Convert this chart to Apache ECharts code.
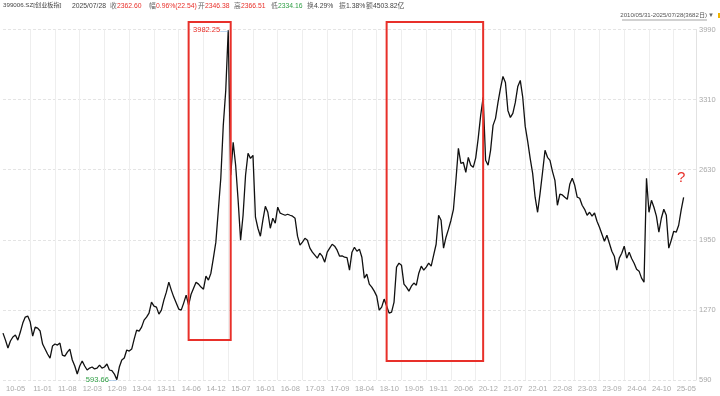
<!DOCTYPE html>
<html><head><meta charset="utf-8">
<script src="https://cdn.jsdelivr.net/npm/echarts@6/dist/echarts.min.js"></script>
<style>html,body{margin:0;padding:0;background:#fff}#c{width:720px;height:396px}</style>
</head><body><div id="c"></div>
<script>
// ---- data ----
const tickLabels = ['10-05','11-01','11-08','12-03','12-09','13-04','13-11','14-06','14-12','15-07','16-01','16-08','17-03','17-09','18-04','18-10','19-05','19-11','20-06','20-12','21-07','22-01','22-08','23-03','23-09','24-04','24-10','25-05'];
const closeValues = [
1045,977,900,968,1007,1026,977,1055,1142,1200,
1210,1152,1016,1103,1094,1065,939,890,842,803,
919,939,929,948,832,822,861,890,784,726,
648,726,774,726,687,706,716,697,706,735,
706,716,745,687,680,648,593.66,716,784,803,
881,871,890,987,1074,1065,1103,1171,1200,1239,
1346,1307,1297,1229,1268,1365,1442,1539,1462,1394,
1336,1278,1268,1336,1413,1316,1423,1481,1539,1520,
1491,1471,1597,1559,1626,1772,1927,2237,2547,3060,
3399,3982.25,2576,2895,2673,2333,1946,2188,2576,2789,
2740,2769,2169,2062,1985,2140,2275,2217,2062,2159,
2111,2266,2208,2198,2188,2198,2188,2179,2159,1985,
1898,1927,1965,1946,1869,1830,1801,1772,1820,1791,
1733,1830,1869,1907,1888,1849,1791,1795,1781,1778,
1655,1830,1878,1839,1859,1781,1578,1617,1520,1491,
1452,1404,1268,1297,1375,1307,1239,1249,1346,1685,
1723,1704,1520,1491,1452,1500,1530,1510,1626,1694,
1655,1685,1723,1694,1801,1907,2188,2140,1869,1975,
2053,2140,2246,2527,2837,2692,2700,2605,2750,2673,
2653,2745,2934,3157,3331,2721,2673,2818,3060,3128,
3283,3418,3535,3476,3205,3137,3176,3283,3438,3496,
3331,3050,2905,2740,2595,2363,2217,2401,2605,2818,
2750,2721,2614,2527,2285,2392,2385,2363,2343,2488,
2547,2479,2363,2353,2285,2246,2188,2217,2179,2210,
2130,2072,2004,1936,1994,1917,1839,1791,1655,1772,
1820,1888,1772,1830,1768,1723,1665,1646,1578,1539,
2547,2217,2333,2266,2179,2024,2159,2246,2188,1869,
1946,2033,2024,2091,2237,2362.60
];
const tickIndex = [0,11,21,31,41,51,61,71,81,91,101,111,121,131,141,151,161,171,181,191,201,211,221,231,241,251,261,271];
const yMin = 590, yMax = 3990, yStep = 680;
// highlighted periods: [fromIndex, toIndex, lowValue, highValue]
const boxes = [[74.75, 91.7, 978, 4063], [154.7, 194.3, 774, 4063]];
const questionMark = {index: 274.3, value: 2549, text: '?'};
const header = [
  ['399006.SZ[创业板指]', '#444', 3, 6.2],
  ['2025/07/28', '#444', 72, 6.8],
  ['收', '#666', 110, 6.8], ['2362.60', '#e8302a', 117, 6.8],
  ['幅', '#666', 149, 6.8], ['0.96%(22.54)', '#e8302a', 156, 6.8],
  ['开', '#666', 198, 6.8], ['2346.38', '#e8302a', 205, 6.8],
  ['高', '#666', 234, 6.8], ['2366.51', '#e8302a', 241, 6.8],
  ['低', '#666', 271, 6.8], ['2334.16', '#2e9e44', 278, 6.8],
  ['换', '#666', 307, 6.8], ['4.29%', '#444', 314, 6.8],
  ['振', '#666', 339, 6.8], ['1.38%', '#444', 346, 6.8],
  ['额', '#666', 366, 6.8], ['4503.82亿', '#444', 373, 6.8]
];
const rangeText = '2010/05/31-2025/07/28(3682日)';

// ---- build ----
const slotCount = closeValues.length + 5;
const cats = [];
for (let i = 0; i < slotCount; i++) cats.push('');
tickIndex.forEach((ix, k) => { cats[ix] = tickLabels[k]; });

const FONT = 'Liberation Sans, "Noto Sans CJK SC", sans-serif';
const chart = echarts.init(document.getElementById('c'));
const baseGraphics = header.map(h => ({
  type: 'text', left: h[2], top: 2.5,
  style: {text: h[0], fill: h[1], font: h[3] + 'px ' + FONT}
})).concat([
  {type: 'text', right: 13, top: 12.5, style: {text: rangeText, fill: '#555', font: '6.1px ' + FONT}},
  {type: 'text', right: 6, top: 12.5, style: {text: '▼', fill: '#666', font: '6px ' + FONT}},
  {type: 'rect', right: 0, top: 13, shape: {width: 2, height: 5}, style: {fill: '#f0b400'}}
]);
chart.setOption({
  animation: false,
  grid: {left: 3, right: 24, top: 29.5, bottom: 16},
  xAxis: {
    type: 'category', data: cats, boundaryGap: false,
    axisLine: {show: false}, axisTick: {show: false},
    axisLabel: {
      interval: (i, v) => v !== '', align: 'left', padding: [0, 0, 0, 3],
      color: '#aaa', fontSize: 7.5, fontFamily: FONT, margin: 5
    },
    splitLine: {show: true, interval: (i, v) => v !== '' && i > 0, lineStyle: {color: '#eeeeee', width: 1}}
  },
  yAxis: {
    type: 'value', position: 'right', min: yMin, max: yMax, interval: yStep,
    axisLine: {show: true, lineStyle: {color: '#e2e2e2'}},
    axisTick: {show: false},
    axisLabel: {color: '#aaa', fontSize: 7.5, fontFamily: FONT, margin: 3, formatter: v => String(v)},
    splitLine: {lineStyle: {color: '#e4e4e4', type: [3, 2]}}
  },
  series: [{
    type: 'line', data: closeValues, showSymbol: false, symbol: 'none',
    lineStyle: {color: '#111', width: 1.3},
    markPoint: {
      symbol: 'circle', symbolSize: 0.1, itemStyle: {color: 'transparent'},
      label: {show: true, position: 'left', distance: 0, fontFamily: FONT},
      data: [
        {type: 'max', label: {formatter: p => '{v|' + p.value.toFixed(2) + '}{l|—}',
          rich: {v: {color: '#e8302a', fontSize: 7.5}, l: {color: '#7fb2e5', fontSize: 8}}}},
        {type: 'min', label: {formatter: p => '{v|' + p.value.toFixed(2) + '}{l|—}',
          rich: {v: {color: '#2e9e44', fontSize: 7.5}, l: {color: '#7fb2e5', fontSize: 8}}}}
      ]
    }
  }],
  graphic: baseGraphics
});

// boxes, underline and "?" placed from data coordinates
const extra = [];
boxes.forEach(b => {
  const p1 = chart.convertToPixel({gridIndex: 0}, [b[0], b[3]]);
  const p2 = chart.convertToPixel({gridIndex: 0}, [b[1], b[2]]);
  extra.push({type: 'rect', shape: {x: p1[0], y: p1[1], width: p2[0] - p1[0], height: p2[1] - p1[1]},
    style: {fill: 'none', stroke: '#e8302a', lineWidth: 2}, z: 10});
});
const q = chart.convertToPixel({gridIndex: 0}, [questionMark.index, questionMark.value]);
extra.push({type: 'text', x: q[0], y: q[1], style: {text: questionMark.text, fill: '#e8302a',
  font: '15px ' + FONT, align: 'center', verticalAlign: 'middle'}, z: 10});
extra.push({type: 'line', shape: {x1: 622, y1: 20, x2: 707, y2: 20}, style: {stroke: '#666', lineWidth: 0.6}});
chart.setOption({graphic: baseGraphics.concat(extra)});
</script>
</body></html>
